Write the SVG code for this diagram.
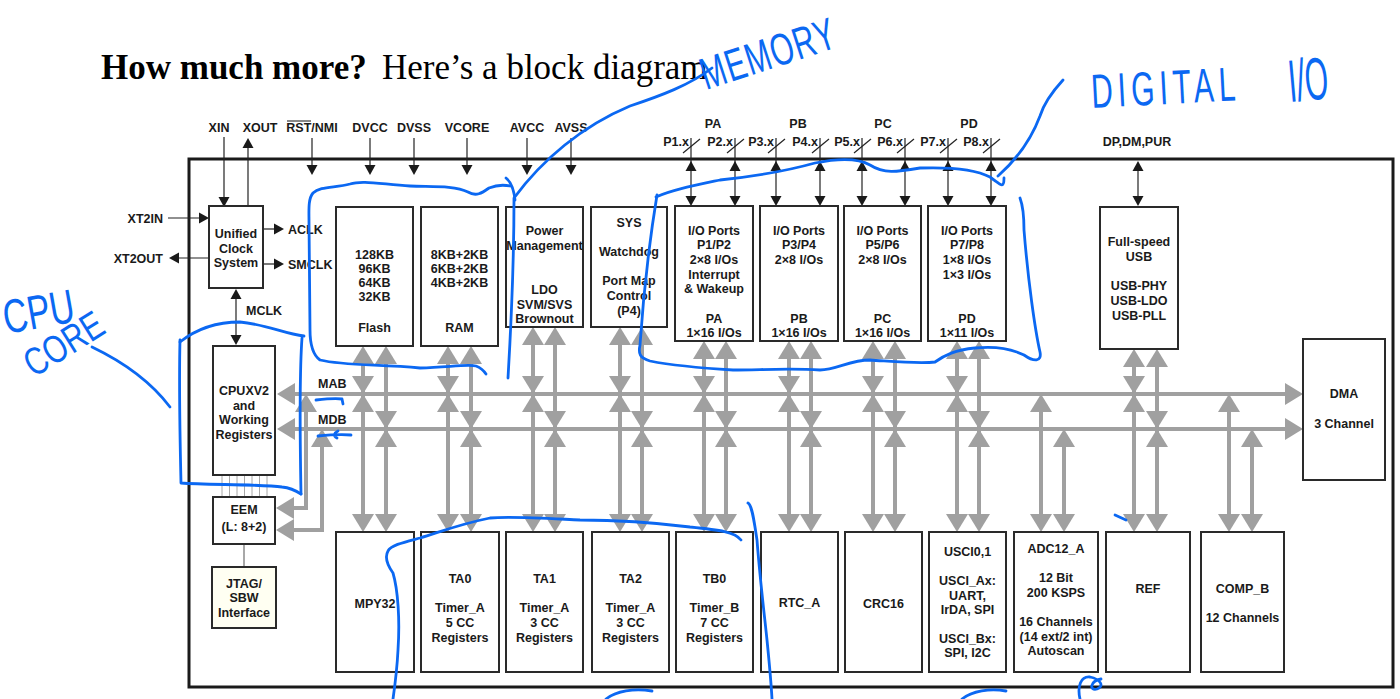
<svg xmlns="http://www.w3.org/2000/svg" xmlns:xlink="http://www.w3.org/1999/xlink" width="1400" height="699" viewBox="0 0 1400 699">
<style>
.box{fill:#fff;stroke:#2a2a2a;stroke-width:2}
.t{font-family:"Liberation Sans",Arial,sans-serif;font-weight:bold;font-size:12.5px;fill:#1a1a1a;text-anchor:middle}
.s{text-anchor:start}
.e{text-anchor:end}
.bus{stroke:#a0a0a0;stroke-width:4;fill:none}
.ga{fill:#a0a0a0}
.pin{stroke:#222;stroke-width:1.2;fill:none}
.ba{fill:#1a1a1a}
.thin{stroke:#a8a8a8;stroke-width:1;fill:none}
.ink{stroke:#0b68f2;stroke-width:2.8;fill:none;stroke-linecap:round;stroke-linejoin:round}
.hw{fill:#0b68f2;font-family:"Liberation Sans",Arial,sans-serif;font-weight:normal}
</style>
<defs>
<path id="gu" class="ga" d="M0,0 L-11,18 L11,18 Z"/>
<path id="gd" class="ga" d="M0,0 L-11,-18 L11,-18 Z"/>
<path id="gl" class="ga" d="M0,0 L18,-11 L18,11 Z"/>
<path id="gr" class="ga" d="M0,0 L-18,-11 L-18,11 Z"/>
<path id="bu" class="ba" d="M0,0 L-5.5,10 L5.5,10 Z"/>
<path id="bd" class="ba" d="M0,0 L-5.5,-10 L5.5,-10 Z"/>
<path id="bl" class="ba" d="M0,0 L10,-5.5 L10,5.5 Z"/>
<path id="br" class="ba" d="M0,0 L-10,-5.5 L-10,5.5 Z"/>
</defs>
<rect width="1400" height="699" fill="#fff"/>

<text x="101" y="79" font-family="Liberation Serif,Times New Roman,serif" font-size="35" fill="#000"><tspan font-weight="bold">How much more?</tspan><tspan x="382">Here’s a block diagram</tspan></text>

<!-- chip outline -->
<rect x="189" y="159" width="1204" height="528" fill="none" stroke="#1a1a1a" stroke-width="3"/>

<!-- connectors -->
<g id="connectors">
  <!-- top pins -->
  <g class="pin">
    <path d="M224,137 V200"/><path d="M248,145 V207"/>
    <path d="M312,138 V166"/><path d="M370,138 V166"/><path d="M414,138 V166"/><path d="M467,138 V166"/><path d="M527,138 V166"/><path d="M571,138 V166"/>
    <path d="M691,138 V200"/><path d="M735,138 V200"/><path d="M776,138 V200"/><path d="M820,138 V200"/><path d="M862,138 V200"/><path d="M905,138 V200"/><path d="M948,138 V200"/><path d="M991,138 V200"/>
    <path d="M683,153 L700,139"/><path d="M727,153 L744,139"/><path d="M768,153 L785,139"/><path d="M812,153 L829,139"/><path d="M854,153 L871,139"/><path d="M897,153 L914,139"/><path d="M940,153 L957,139"/><path d="M983,153 L1000,139"/>
    <path d="M1138,165 V200"/>
    <path d="M168,218 H201"/><path d="M176,258 H209"/>
    <path d="M263,229 H275"/><path d="M263,264 H275"/>
    <path d="M236,295 V338"/>
    <path d="M287,121 H311" stroke="#888" stroke-width="2"/>
  </g>
  <use href="#bd" x="224" y="207"/><use href="#bu" x="248" y="138"/>
  <use href="#bd" x="312" y="175"/><use href="#bd" x="370" y="175"/><use href="#bd" x="414" y="175"/><use href="#bd" x="467" y="175"/><use href="#bd" x="527" y="175"/><use href="#bd" x="571" y="175"/>
  <use href="#bu" x="691" y="161"/><use href="#bd" x="691" y="206"/>
  <use href="#bu" x="735" y="161"/><use href="#bd" x="735" y="206"/>
  <use href="#bu" x="776" y="161"/><use href="#bd" x="776" y="206"/>
  <use href="#bu" x="820" y="161"/><use href="#bd" x="820" y="206"/>
  <use href="#bu" x="862" y="161"/><use href="#bd" x="862" y="206"/>
  <use href="#bu" x="905" y="161"/><use href="#bd" x="905" y="206"/>
  <use href="#bu" x="948" y="161"/><use href="#bd" x="948" y="206"/>
  <use href="#bu" x="991" y="161"/><use href="#bd" x="991" y="206"/>
  <use href="#bu" x="1138" y="161"/><use href="#bd" x="1138" y="206"/>
  <use href="#br" x="209" y="218"/><use href="#bl" x="169" y="258"/>
  <use href="#br" x="284" y="229"/><use href="#br" x="284" y="264"/>
  <use href="#bu" x="236" y="289"/><use href="#bd" x="236" y="345"/>

  <!-- CPU to EEM thin lines -->
  <g class="thin">
    <path d="M222,475 V497"/><path d="M229.5,475 V497"/><path d="M237,475 V497"/><path d="M244.5,475 V497"/><path d="M252,475 V497"/><path d="M259.5,475 V497"/><path d="M267,475 V497"/>
    <path d="M244,544 V567" stroke-width="2"/>
  </g>

  <!-- buses -->
  <g class="bus">
    <path d="M290,394 H1290"/><path d="M290,429 H1290"/>
    <path d="M306,405 V508 H290"/><path d="M322,440 V530 H290"/>
    <path d="M363,351 V527"/><path d="M386,351 V527"/>
    <path d="M448,351 V527"/><path d="M471,351 V527"/>
    <path d="M533,332 V527"/><path d="M555,332 V527"/>
    <path d="M620,332 V527"/><path d="M642,332 V527"/>
    <path d="M704,346 V527"/><path d="M726,346 V527"/>
    <path d="M789,346 V527"/><path d="M811,346 V527"/>
    <path d="M873,346 V527"/><path d="M895,346 V527"/>
    <path d="M957,346 V527"/><path d="M979,346 V527"/>
    <path d="M1134,354 V527"/><path d="M1157,354 V527"/>
    <path d="M1041,405 V527"/><path d="M1064,440 V527"/>
    <path d="M1229,405 V527"/><path d="M1252,440 V527"/>
  </g>
  <use href="#gl" x="277" y="394"/><use href="#gl" x="277" y="429"/>
  <use href="#gr" x="1303" y="394"/><use href="#gr" x="1303" y="429"/>
  <use href="#gu" x="306" y="394"/><use href="#gu" x="322" y="429"/>
  <use href="#gl" x="276" y="508"/><use href="#gl" x="276" y="530"/>
  <!-- Flash / MPY32 -->
  <use href="#gu" x="363" y="346"/><use href="#gd" x="363" y="394"/><use href="#gu" x="363" y="394"/><use href="#gd" x="363" y="532"/>
  <use href="#gu" x="386" y="346"/><use href="#gd" x="386" y="429"/><use href="#gu" x="386" y="429"/><use href="#gd" x="386" y="532"/>
  <!-- RAM / TA0 -->
  <use href="#gu" x="448" y="346"/><use href="#gd" x="448" y="394"/><use href="#gu" x="448" y="394"/><use href="#gd" x="448" y="532"/>
  <use href="#gu" x="471" y="346"/><use href="#gd" x="471" y="429"/><use href="#gu" x="471" y="429"/><use href="#gd" x="471" y="532"/>
  <!-- Power / TA1 -->
  <use href="#gu" x="533" y="327"/><use href="#gd" x="533" y="394"/><use href="#gu" x="533" y="394"/><use href="#gd" x="533" y="532"/>
  <use href="#gu" x="555" y="327"/><use href="#gd" x="555" y="429"/><use href="#gu" x="555" y="429"/><use href="#gd" x="555" y="532"/>
  <!-- SYS / TA2 -->
  <use href="#gu" x="620" y="327"/><use href="#gd" x="620" y="394"/><use href="#gu" x="620" y="394"/><use href="#gd" x="620" y="532"/>
  <use href="#gu" x="642" y="327"/><use href="#gd" x="642" y="429"/><use href="#gu" x="642" y="429"/><use href="#gd" x="642" y="532"/>
  <!-- PA / TB0 -->
  <use href="#gu" x="704" y="341"/><use href="#gd" x="704" y="394"/><use href="#gu" x="704" y="394"/><use href="#gd" x="704" y="532"/>
  <use href="#gu" x="726" y="341"/><use href="#gd" x="726" y="429"/><use href="#gu" x="726" y="429"/><use href="#gd" x="726" y="532"/>
  <!-- PB / RTC_A -->
  <use href="#gu" x="789" y="341"/><use href="#gd" x="789" y="394"/><use href="#gu" x="789" y="394"/><use href="#gd" x="789" y="532"/>
  <use href="#gu" x="811" y="341"/><use href="#gd" x="811" y="429"/><use href="#gu" x="811" y="429"/><use href="#gd" x="811" y="532"/>
  <!-- PC / CRC16 -->
  <use href="#gu" x="873" y="341"/><use href="#gd" x="873" y="394"/><use href="#gu" x="873" y="394"/><use href="#gd" x="873" y="532"/>
  <use href="#gu" x="895" y="341"/><use href="#gd" x="895" y="429"/><use href="#gu" x="895" y="429"/><use href="#gd" x="895" y="532"/>
  <!-- PD / USCI -->
  <use href="#gu" x="957" y="341"/><use href="#gd" x="957" y="394"/><use href="#gu" x="957" y="394"/><use href="#gd" x="957" y="532"/>
  <use href="#gu" x="979" y="341"/><use href="#gd" x="979" y="429"/><use href="#gu" x="979" y="429"/><use href="#gd" x="979" y="532"/>
  <!-- ADC -->
  <use href="#gu" x="1041" y="394"/><use href="#gd" x="1041" y="532"/>
  <use href="#gu" x="1064" y="429"/><use href="#gd" x="1064" y="532"/>
  <!-- USB / REF -->
  <use href="#gu" x="1134" y="349"/><use href="#gd" x="1134" y="394"/><use href="#gu" x="1134" y="394"/><use href="#gd" x="1134" y="532"/>
  <use href="#gu" x="1157" y="349"/><use href="#gd" x="1157" y="429"/><use href="#gu" x="1157" y="429"/><use href="#gd" x="1157" y="532"/>
  <!-- COMP_B -->
  <use href="#gu" x="1229" y="394"/><use href="#gd" x="1229" y="532"/>
  <use href="#gu" x="1252" y="429"/><use href="#gd" x="1252" y="532"/>
</g>

<!-- pin labels -->
<g id="pins" class="t">
  <text x="219" y="131.5">XIN</text><text x="260" y="131.5">XOUT</text><text x="312" y="131.5">RST/NMI</text>
  <text x="370" y="131.5">DVCC</text><text x="414" y="131.5">DVSS</text><text x="467" y="131.5">VCORE</text>
  <text x="527" y="131.5">AVCC</text><text x="571" y="131.5">AVSS</text>
  <text x="713" y="127.5">PA</text><text x="798" y="127.5">PB</text><text x="883" y="127.5">PC</text><text x="969" y="127.5">PD</text>
  <text class="e" x="689" y="145.5">P1.x</text><text class="e" x="733" y="145.5">P2.x</text>
  <text class="e" x="774" y="145.5">P3.x</text><text class="e" x="818" y="145.5">P4.x</text>
  <text class="e" x="860" y="145.5">P5.x</text><text class="e" x="903" y="145.5">P6.x</text>
  <text class="e" x="946" y="145.5">P7.x</text><text class="e" x="989" y="145.5">P8.x</text>
  <text x="1137" y="145.5">DP,DM,PUR</text>
  <text class="e" x="163" y="222.5">XT2IN</text><text class="e" x="163" y="262.5">XT2OUT</text>
  <text class="s" x="288" y="233.5">ACLK</text><text class="s" x="288" y="268.5">SMCLK</text>
  <text class="s" x="246" y="314.5">MCLK</text>
  <text class="s" x="318" y="387.5">MAB</text><text class="s" x="318" y="423.5">MDB</text>
</g>

<!-- nodes -->
<g id="ucs" class="t"><rect class="box" x="209" y="206" width="54" height="82"/><text x="236" y="237.5">Unified</text><text x="236" y="252.5">Clock</text><text x="236" y="266.5">System</text></g>
<g id="cpu" class="t"><rect class="box" x="213" y="346" width="62" height="129"/><text x="244" y="394.5">CPUXV2</text><text x="244" y="409.5">and</text><text x="244" y="423.5">Working</text><text x="244" y="438.5">Registers</text></g>
<g id="eem" class="t"><rect class="box" x="213" y="497" width="62" height="47"/><text x="244" y="513.5">EEM</text><text x="244" y="530.5">(L: 8+2)</text></g>
<g id="jtag" class="t"><rect class="box" x="212" y="567" width="64" height="61" style="fill:#fffff2"/><text x="244" y="587.5">JTAG/</text><text x="244" y="601.5">SBW</text><text x="244" y="616.5">Interface</text></g>

<g id="flash" class="t"><rect class="box" x="336" y="207" width="77" height="139"/><text x="374.5" y="258.5">128KB</text><text x="374.5" y="272.5">96KB</text><text x="374.5" y="286.5">64KB</text><text x="374.5" y="300.5">32KB</text><text x="374.5" y="331.5">Flash</text></g>
<g id="ram" class="t"><rect class="box" x="421" y="207" width="77" height="139"/><text x="459.5" y="258.5">8KB+2KB</text><text x="459.5" y="272.5">6KB+2KB</text><text x="459.5" y="287">4KB+2KB</text><text x="459.5" y="331.5">RAM</text></g>
<g id="power" class="t"><rect class="box" x="506" y="207" width="77" height="120"/><text x="544.5" y="234.5">Power</text><text x="544.5" y="249.5">Management</text><text x="544.5" y="293.5">LDO</text><text x="544.5" y="308.5">SVM/SVS</text><text x="544.5" y="322.5">Brownout</text></g>
<g id="sys" class="t"><rect class="box" x="591" y="207" width="76" height="120"/><text x="629" y="226.5">SYS</text><text x="629" y="255.5">Watchdog</text><text x="629" y="284.5">Port Map</text><text x="629" y="299.5">Control</text><text x="629" y="314.5">(P4)</text></g>
<g id="pa" class="t"><rect class="box" x="675" y="206" width="78" height="135"/><text x="714" y="234.5">I/O Ports</text><text x="714" y="248.5">P1/P2</text><text x="714" y="263.5">2×8 I/Os</text><text x="714" y="278.5">Interrupt</text><text x="714" y="292.5">&amp; Wakeup</text><text x="714" y="322.5">PA</text><text x="714" y="336.5">1×16 I/Os</text></g>
<g id="pb" class="t"><rect class="box" x="760" y="206" width="78" height="135"/><text x="799" y="234.5">I/O Ports</text><text x="799" y="248.5">P3/P4</text><text x="799" y="263.5">2×8 I/Os</text><text x="799" y="322.5">PB</text><text x="799" y="336.5">1×16 I/Os</text></g>
<g id="pc" class="t"><rect class="box" x="844" y="206" width="77" height="135"/><text x="882.5" y="234.5">I/O Ports</text><text x="882.5" y="248.5">P5/P6</text><text x="882.5" y="263.5">2×8 I/Os</text><text x="882.5" y="322.5">PC</text><text x="882.5" y="336.5">1×16 I/Os</text></g>
<g id="pd" class="t"><rect class="box" x="928" y="206" width="78" height="135"/><text x="967" y="234.5">I/O Ports</text><text x="967" y="248.5">P7/P8</text><text x="967" y="263.5">1×8 I/Os</text><text x="967" y="278.5">1×3 I/Os</text><text x="967" y="322.5">PD</text><text x="967" y="336.5">1×11 I/Os</text></g>
<g id="usb" class="t"><rect class="box" x="1100" y="207" width="78" height="142"/><text x="1139" y="245.5">Full-speed</text><text x="1139" y="260.5">USB</text><text x="1139" y="289.5">USB-PHY</text><text x="1139" y="304.5">USB-LDO</text><text x="1139" y="319.5">USB-PLL</text></g>
<g id="dma" class="t"><rect class="box" x="1303" y="339" width="82" height="141"/><text x="1344" y="397.5">DMA</text><text x="1344" y="427.5">3 Channel</text></g>

<g id="mpy" class="t"><rect class="box" x="336" y="532" width="78" height="140"/><text x="375" y="607.5">MPY32</text></g>
<g id="ta0" class="t"><rect class="box" x="421" y="532" width="78" height="140"/><text x="460" y="582.5">TA0</text><text x="460" y="611.5">Timer_A</text><text x="460" y="626.5">5 CC</text><text x="460" y="641.5">Registers</text></g>
<g id="ta1" class="t"><rect class="box" x="506" y="532" width="77" height="140"/><text x="544.5" y="582.5">TA1</text><text x="544.5" y="611.5">Timer_A</text><text x="544.5" y="626.5">3 CC</text><text x="544.5" y="641.5">Registers</text></g>
<g id="ta2" class="t"><rect class="box" x="592" y="532" width="77" height="140"/><text x="630.5" y="582.5">TA2</text><text x="630.5" y="611.5">Timer_A</text><text x="630.5" y="626.5">3 CC</text><text x="630.5" y="641.5">Registers</text></g>
<g id="tb0" class="t"><rect class="box" x="676" y="532" width="77" height="140"/><text x="714.5" y="582.5">TB0</text><text x="714.5" y="611.5">Timer_B</text><text x="714.5" y="626.5">7 CC</text><text x="714.5" y="641.5">Registers</text></g>
<g id="rtc" class="t"><rect class="box" x="761" y="532" width="77" height="140"/><text x="799.5" y="606.5">RTC_A</text></g>
<g id="crc" class="t"><rect class="box" x="845" y="532" width="77" height="140"/><text x="883.5" y="607.5">CRC16</text></g>
<g id="usci" class="t"><rect class="box" x="929" y="532" width="77" height="140"/><text x="967.5" y="555.5">USCI0,1</text><text x="967.5" y="584.5">USCI_Ax:</text><text x="967.5" y="599.5">UART,</text><text x="967.5" y="613.5">IrDA, SPI</text><text x="967.5" y="642.5">USCI_Bx:</text><text x="967.5" y="656.5">SPI, I2C</text></g>
<g id="adc" class="t"><rect class="box" x="1014" y="532" width="84" height="140"/><text x="1056" y="552.5">ADC12_A</text><text x="1056" y="581.5">12 Bit</text><text x="1056" y="596.5">200 KSPS</text><text x="1056" y="625.5">16 Channels</text><text x="1056" y="640.5">(14 ext/2 int)</text><text x="1056" y="654.5">Autoscan</text></g>
<g id="ref" class="t"><rect class="box" x="1106" y="532" width="84" height="140"/><text x="1148" y="592.5">REF</text></g>
<g id="compb" class="t"><rect class="box" x="1201" y="532" width="83" height="140"/><text x="1242.5" y="592.5">COMP_B</text><text x="1242.5" y="621.5">12 Channels</text></g>

<!-- handwritten annotations -->
<g id="annotations">
  <g class="ink">
    <!-- memory -->
    <path d="M515,200 C514,190 511,182 506,178"/>
    <path d="M510,186 C500,184 494,186 489,188 C482,193 476,197 468,192 C454,185 430,187 410,186 C380,184 362,180 350,184 C335,188 320,186 313,193 C308,199 309,210 309,222 L310,330 C310,345 313,355 320,360 C345,366 380,364 420,368 C450,367 468,364 476,366 C481,368 484,371 486,374"/>
    <path d="M712,68 C690,85 660,96 630,106 C582,126 542,160 514,198 C514,240 512,310 508,378"/>
    <!-- cpu core -->
    <path d="M180,342 C195,330 215,322 240,322 C265,324 285,334 304,336"/>
    <path d="M180,340 C179,380 180,440 181,483 C205,485 260,484 282,487 C292,488 298,492 301,494"/>
    <path d="M302,338 C299,380 300,440 301,494"/>
    <path d="M92,347 C115,358 148,378 170,407"/>
    <path d="M316,400 C325,399 335,398 342,399 L343,404"/>
    <path d="M318,436 C328,435 340,434 351,435 M338,431 C334,433 333,436 337,438"/>
    <!-- digital io -->
    <path d="M1063,80 C1052,92 1044,103 1040,116 C1031,140 1016,160 998,176"/>
    <path d="M656,197 C672,190 692,186 720,180 C758,176 790,170 815,163 C835,159 856,157 870,165 C884,174 896,172 920,168 C950,167 975,169 990,177 C1000,184 1004,190 1004,178"/>
    <path d="M1020,198 C1023,206 1024,215 1024,230 C1028,280 1035,330 1040,352 C1042,362 1034,362 1024,355 C1010,348 995,346 975,348 C955,350 945,355 935,362 C920,364 900,362 870,360 C850,360 836,370 820,370 C790,368 760,370 733,370 C700,368 670,365 650,361 C640,358 638,354 640,345 C643,300 648,250 657,195"/>
    <!-- timers -->
    <path d="M741,540 C735,532 720,530 690,527 C650,522 620,520 580,520 C540,518 510,516 490,518 C460,524 440,532 420,538 C405,542 391,545 388,551 C384,558 388,566 393,573 C398,590 400,620 398,650 C397,670 395,685 393,699"/>
    <path d="M748,503 C752,505 754,520 757,540 C760,580 765,620 767,640 C769,660 771,680 772,699"/>
    <path d="M1115,515 L1126,520"/>
    <path d="M606,699 C616,691 634,688 652,691"/>
    <path d="M962,699 C972,691 990,688 1006,691"/>
    <path d="M1080,699 C1077,686 1081,676 1090,677 C1100,679 1105,686 1097,689 C1089,691 1090,681 1101,679"/>
  </g>
  <text class="hw" font-size="30" letter-spacing="1" transform="translate(706,90) rotate(-18) scale(1,1.5)">MEMORY</text>
  <text class="hw" font-size="30" letter-spacing="5" transform="translate(1092,108) rotate(-3) scale(1,1.6)">DIGITAL</text>
  <text class="hw" font-size="30" transform="translate(1290,102) rotate(-5) scale(1,2)">I/O</text>
  <text class="hw" font-size="34" transform="translate(6,334) rotate(-10) scale(1,1.4)">CPU</text>
  <text class="hw" font-size="30" transform="translate(34,378) rotate(-32) scale(1,1.3)">CORE</text>
</g>
</svg>
